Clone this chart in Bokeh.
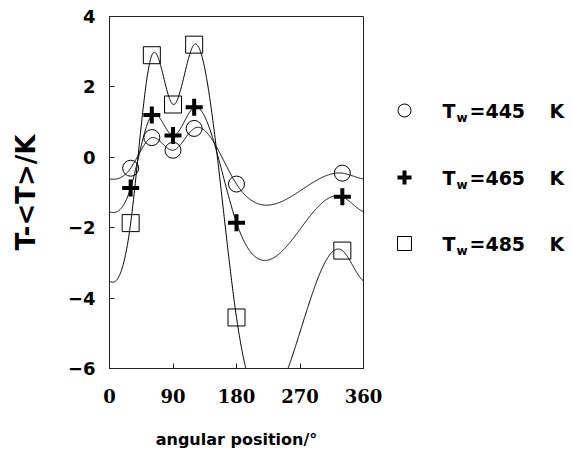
import numpy as np
from bokeh.plotting import figure
from bokeh.layouts import row
from bokeh.models import Range1d, FixedTicker, ColumnDataSource
from bokeh.core.properties import value
from bokeh.embed import file_html
from bokeh.resources import INLINE

# ---- data ----
angles = [30, 60, 90, 120, 180, 330]
t445 = [-0.31, 0.56, 0.20, 0.82, -0.76, -0.45]
t465 = [-0.87, 1.20, 0.62, 1.42, -1.86, -1.12]
t485 = [-1.87, 2.90, 1.50, 3.20, -4.55, -2.65]
series_names = ["445", "465", "485"]
x_ticks = [0, 90, 180, 270, 360]
y_ticks = [-6, -4, -2, 0, 2, 4]
period = 360


def periodic_spline(xk, yk, per, xs):
    xk = np.asarray(xk, float)
    yk = np.asarray(yk, float)
    n = len(xk)
    xe = np.append(xk, xk[0] + per)
    ye = np.append(yk, yk[0])
    h = np.diff(xe)
    A = np.zeros((n, n))
    r = np.zeros(n)
    for i in range(n):
        hp = h[i - 1]
        hi = h[i]
        A[i, (i - 1) % n] += hp
        A[i, i] += 2 * (hp + hi)
        A[i, (i + 1) % n] += hi
        r[i] = 6 * ((ye[i + 1] - ye[i]) / hi - (yk[i] - yk[(i - 1) % n]) / hp)
    M = np.linalg.solve(A, r)
    Me = np.append(M, M[0])
    out = []
    for x in xs:
        t = x if x >= xk[0] else x + per
        i = int(np.searchsorted(xe, t, side="right") - 1)
        i = min(max(i, 0), n - 1)
        hh = h[i]
        a = xe[i + 1] - t
        b = t - xe[i]
        s = (Me[i] * a ** 3 / (6 * hh) + Me[i + 1] * b ** 3 / (6 * hh)
             + (ye[i] / hh - Me[i] * hh / 6) * a
             + (ye[i + 1] / hh - Me[i + 1] * hh / 6) * b)
        out.append(s)
    return np.array(out)


xs = np.linspace(0, 360, 721)

TOP, BOTTOM = 16, 98
P_W, H = 390, 466

p = figure(width=P_W, height=H, x_range=Range1d(0, 360), y_range=Range1d(-6, 4),
           output_backend="svg", toolbar_location=None,
           min_border_left=109, min_border_right=27, min_border_top=TOP, min_border_bottom=BOTTOM)
p.xgrid.visible = False
p.ygrid.visible = False
p.outline_line_color = "#222222"
p.outline_line_width = 1
p.background_fill_color = "white"
p.border_fill_color = "white"

for ys in (t445, t465, t485):
    p.line(xs, periodic_spline(angles, ys, period, xs), line_color="black", line_width=1)

p.scatter(angles, t445, marker="circle", size=16, line_color="black", line_width=1, fill_color=None)
p.scatter(angles, t465, marker="cross", size=17, line_color="black", line_width=4)
p.scatter(angles, t485, marker="square", size=17, line_color="black", line_width=1, fill_color=None)

p.xaxis.ticker = FixedTicker(ticks=x_ticks)
p.yaxis.ticker = FixedTicker(ticks=y_ticks)
for ax in (p.xaxis[0], p.yaxis[0]):
    ax.major_tick_in = 5
    ax.major_tick_out = 0
    ax.minor_tick_line_color = None
    ax.axis_line_color = "#222222"
    ax.major_tick_line_color = "#222222"
    ax.axis_label_text_font_style = "bold"
    ax.axis_label_text_color = "black"
    ax.major_label_text_color = "black"
    ax.major_label_text_font_style = "bold"

p.xaxis.major_label_text_font = "DejaVu Serif"
p.xaxis.major_label_text_font_size = "18px"
p.xaxis.major_label_standoff = 20
p.xaxis.axis_label = "angular position/°"
p.xaxis.axis_label_text_font = "DejaVu Sans"
p.xaxis.axis_label_text_font_size = "16px"
p.xaxis.axis_label_standoff = 24

p.yaxis.major_label_text_font = "DejaVu Sans"
p.yaxis.major_label_text_font_size = "18px"
p.yaxis.major_label_standoff = 14
p.yaxis.axis_label = "T-<T>/K"
p.yaxis.axis_label_text_font = "DejaVu Sans"
p.yaxis.axis_label_text_font_size = "26px"
p.yaxis.axis_label_standoff = 24

# ---- legend panel (data units = page pixels) ----
L_W = 573 - P_W
leg = figure(width=L_W, height=H, x_range=Range1d(P_W, 573), y_range=Range1d(H - BOTTOM, TOP),
             output_backend="svg", toolbar_location=None,
             min_border_left=0, min_border_right=0,
             min_border_top=TOP, min_border_bottom=BOTTOM)
leg.axis.visible = False
leg.grid.visible = False
leg.outline_line_color = None
leg.background_fill_color = "white"
leg.border_fill_color = "white"

row_y = [110, 177, 243]
mx = 404
leg.scatter([mx], [row_y[0]], marker="circle", size=13, line_color="black", line_width=1, fill_color=None)
leg.scatter([mx], [row_y[1]], marker="cross", size=14, line_color="black", line_width=4)
leg.scatter([mx], [row_y[2]], marker="square", size=14, line_color="black", line_width=1, fill_color=None)

src = ColumnDataSource(dict(y=row_y, ysub=[yy + 7 for yy in row_y],
                            T=["T"] * 3, w=["w"] * 3,
                            eq=["=" + s for s in series_names], K=["K"] * 3))
common = dict(text_font=value("DejaVu Sans"), text_font_style="bold",
              text_color="black", text_baseline="middle", text_align="left")
leg.text(x=442, y="y", text="T", source=src, text_font_size="19px", **common)
leg.text(x=456, y="ysub", text="w", source=src, text_font_size="12px", **common)
leg.text(x=469, y="y", text="eq", source=src, text_font_size="19px", **common)
leg.text(x=549, y="y", text="K", source=src, text_font_size="19px", **common)

layout = row(p, leg)
open("out.html", "w").write(file_html(layout, INLINE))
